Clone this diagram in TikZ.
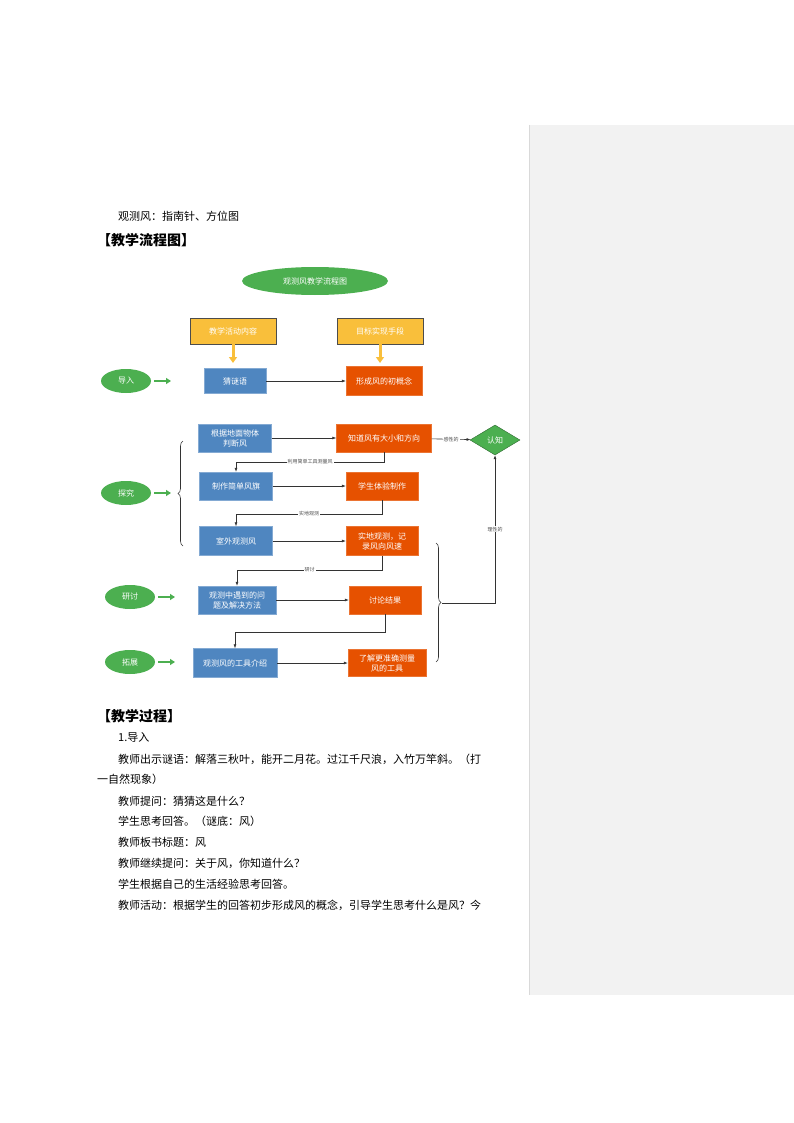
\documentclass[tikz,border=0pt]{standalone}
\usepackage{fontspec}
\setmainfont{Noto Sans CJK SC}
\usetikzlibrary{shapes.geometric,arrows.meta,decorations.pathreplacing}
\definecolor{gr}{HTML}{4CAF50}
\definecolor{bl}{HTML}{4F86C0}
\definecolor{orr}{HTML}{E65100}
\definecolor{ye}{HTML}{F9BF3B}
\definecolor{pan}{HTML}{F2F2F2}
\begin{document}
\begin{tikzpicture}[x=1pt,y=-1pt,
  txt/.style={anchor=west,inner sep=0,font=\fontsize{11}{11}\selectfont},
  head/.style={anchor=west,inner sep=0,font=\fontsize{14}{14}\selectfont\bfseries},
  ov/.style={ellipse,fill=gr,text=white,minimum width=50,minimum height=24,inner sep=0,font=\fontsize{8}{8}\selectfont},
  bb/.style={rectangle,fill=bl,draw=bl!70!white,text=white,align=center,inner sep=0,font=\fontsize{8}{10}\selectfont},
  ob/.style={rectangle,fill=orr,draw=orr!80!white,text=white,align=center,inner sep=0,font=\fontsize{8}{10}\selectfont},
  yb/.style={rectangle,fill=ye,draw=black!70,text=white,minimum width=86,minimum height=26,inner sep=0,font=\fontsize{8}{8}\selectfont},
  ar/.style={-{Latex[length=4,width=3]},black!80,line width=0.6},
  lab/.style={fill=white,inner sep=1,font=\fontsize{5}{5}\selectfont,text=black!70},
  garr/.style={-{Triangle[length=5,width=6]},gr,line width=2.5},
  yarr/.style={-{Triangle[length=6,width=8]},ye,line width=3}]
\useasboundingbox (0,0) rectangle (794,1123);
\fill[pan] (529,125) rectangle (794,995);
\draw[black!15] (529,125) -- (529,995);
% texts
\node[txt] (t0) at (118,216) {观测风：指南针、方位图};
\node[head] (h1) at (97,240) {【教学流程图】};
\node[head] (h2) at (97,716) {【教学过程】};
\node[txt] (t1) at (118,737) {1.导入};
\node[txt] (t2) at (118,759) {教师出示谜语：解落三秋叶，能开二月花。过江千尺浪，入竹万竿斜。（打};
\node[txt] (t3) at (97,779) {一自然现象）};
\node[txt] (t4) at (118,801) {教师提问：猜猜这是什么？};
\node[txt] (t5) at (118,821) {学生思考回答。（谜底：风）};
\node[txt] (t6) at (118,842) {教师板书标题：风};
\node[txt] (t7) at (118,863) {教师继续提问：关于风，你知道什么？};
\node[txt] (t8) at (118,884) {学生根据自己的生活经验思考回答。};
\node[txt] (t9) at (118,905) {教师活动：根据学生的回答初步形成风的概念，引导学生思考什么是风？今};
% flow
\node[ov,minimum width=146,minimum height=28] (title) at (315,281) {观测风教学流程图};
\node[yb] (y1) at (233,331) {教学活动内容};
\node[yb] (y2) at (380,331) {目标实现手段};
\coordinate (y1e) at (233,363); \coordinate (y2e) at (380,363);
\draw[yarr] (y1) -- (y1e);
\draw[yarr] (y2) -- (y2e);
\node[ov] (e1) at (126,381) {导入};
\node[ov] (e2) at (126,493) {探究};
\node[ov] (e3) at (130,597) {研讨};
\node[ov] (e4) at (130,662) {拓展};
\coordinate (g1) at (171,381); \coordinate (g2) at (171,493);
\coordinate (g3) at (175,597); \coordinate (g4) at (175,662);
\draw[garr] (e1.east) ++(3,0) -- (g1);
\draw[garr] (e2.east) ++(3,0) -- (g2);
\draw[garr] (e3.east) ++(3,0) -- (g3);
\draw[garr] (e4.east) ++(3,0) -- (g4);
\node[bb,minimum width=62,minimum height=25] (b1) at (235,381) {猜谜语};
\node[bb,minimum width=73,minimum height=28] (b2) at (235,438) {根据地面物体\\判断风};
\node[bb,minimum width=73,minimum height=28] (b3) at (236,486) {制作简单风旗};
\node[bb,minimum width=73,minimum height=29] (b4) at (236,541) {室外观测风};
\node[bb,minimum width=78,minimum height=28] (b5) at (237,600) {观测中遇到的问\\题及解决方法};
\node[bb,minimum width=84,minimum height=29] (b6) at (235,663) {观测风的工具介绍};
\node[ob,minimum width=76,minimum height=29] (o1) at (384,381) {形成风的初概念};
\node[ob,minimum width=95,minimum height=28] (o2) at (384,438) {知道风有大小和方向};
\node[ob,minimum width=72,minimum height=28] (o3) at (382,486) {学生体验制作};
\node[ob,minimum width=72,minimum height=29] (o4) at (382,541) {实地观测，记\\录风向风速};
\node[ob,minimum width=72,minimum height=28] (o5) at (385,600) {讨论结果};
\node[ob,minimum width=78,minimum height=27] (o6) at (387,663) {了解更准确测量\\风的工具};
\node[diamond,fill=gr,draw=gr!60!black,text=white,minimum width=50,minimum height=30,aspect=1.7,inner sep=0,font=\fontsize{8}{8}\selectfont] (d) at (495,440) {认知};
\foreach \a/\b in {b1/o1,b2/o2,b3/o3,b4/o4,b5/o5,b6/o6} \draw[ar] (\a) -- (\b);
\draw[ar] (o2) -- node[lab]{感性的} (d);
\draw[ar] (o2.south) -- (384,462) -- node[lab]{利用简单工具测量风} (236,462) -- (b3.north);
\draw[ar] (o3.south) -- (382,514) -- node[lab]{实地观测} (236,514) -- (b4.north);
\draw[ar] (o4.south) -- (382,570) -- node[lab]{研讨} (237,570) -- (b5.north);
\draw[ar] (o5.south) -- (385,632) -- (235,632) -- (b6.north);
\draw[black!80,line width=0.6,decorate,decoration={brace,amplitude=5}] (183,546) -- coordinate[pos=0.5] (bl) (183,441);
\draw[black!80,line width=0.6,decorate,decoration={brace,amplitude=5}] (436,543) -- coordinate (br) (436,662);
\coordinate (br2) at (495,603);
\draw[ar] (442,603) -- (br2) -- node[lab]{理性的} (d.south);
\end{tikzpicture}
\end{document}
